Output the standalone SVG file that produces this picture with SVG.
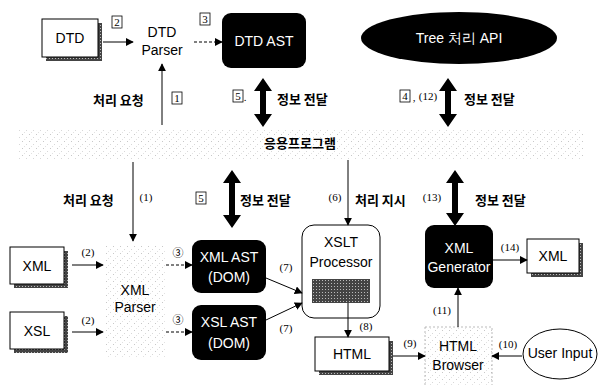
<svg xmlns="http://www.w3.org/2000/svg" width="598" height="385" viewBox="0 0 598 385">
<defs>
<marker id="ah" viewBox="0 0 10 10" refX="9" refY="5" markerWidth="8" markerHeight="8" markerUnits="userSpaceOnUse" orient="auto">
<path d="M0,0 L10,5 L0,10 z" fill="#000"/>
</marker>
<pattern id="speck" width="7" height="7" patternUnits="userSpaceOnUse">
<rect width="7" height="7" fill="#fff"/>
<rect x="1" y="1" width="1" height="1" fill="#c8c8c8"/>
<rect x="5" y="4" width="1" height="1" fill="#d8d8d8"/>
<rect x="3" y="6" width="1" height="1" fill="#e2e2e2"/>
</pattern>
<pattern id="dark" width="3" height="3" patternUnits="userSpaceOnUse">
<rect width="3" height="3" fill="#444"/>
<rect x="1" y="1" width="1" height="1" fill="#bbb"/>
</pattern>
<style>
.lat{font-family:"Liberation Sans","Noto Sans",sans-serif;font-size:14px;text-anchor:middle;fill:#000}
.w{fill:#fff}
.kr{font-family:"Noto Sans CJK KR","Noto Sans",sans-serif;font-size:13px;font-weight:bold;fill:#000}
.num{font-family:"Liberation Serif","Noto Sans CJK KR",serif;font-size:11px;text-anchor:middle;fill:#000}
.box{fill:none;stroke:#000;stroke-width:0.8}
.doc{fill:#fff;stroke:#000;stroke-width:1}
.shadow{fill:url(#dark)}
.blk{fill:#000}
.ln{stroke:#000;stroke-width:1;fill:none}
.dash{stroke:#000;stroke-width:1;fill:none;stroke-dasharray:3,2}
</style>
</defs>
<rect width="598" height="385" fill="#fff"/>

<g id="app">
<rect x="18" y="128" width="565" height="32" fill="url(#speck)"/>
<text x="300" y="148" class="kr" text-anchor="middle">응용프로그램</text>
</g>

<g id="dtd-doc">
<rect x="46" y="23" width="56" height="38" class="shadow"/>
<rect x="42" y="19" width="56" height="38" class="doc"/>
<text x="70" y="43" class="lat">DTD</text>
</g>
<g id="dtd-parser">
<text x="162" y="37" class="lat">DTD</text>
<text x="162" y="55" class="lat">Parser</text>
</g>
<g id="dtd-ast">
<rect x="222" y="13" width="84" height="55" rx="9" class="blk"/>
<text x="264" y="46" class="lat w">DTD AST</text>
</g>
<g id="tree-api">
<ellipse cx="459" cy="38" rx="98" ry="26" fill="#000"/>
<text x="459" y="43" class="lat w">Tree 처리 API</text>
</g>

<g id="xml-doc">
<rect x="14" y="251" width="54" height="37" class="shadow"/>
<rect x="10" y="247" width="54" height="37" class="doc"/>
<text x="37" y="271" class="lat">XML</text>
</g>
<g id="xsl-doc">
<rect x="14" y="316" width="54" height="37" class="shadow"/>
<rect x="10" y="312" width="54" height="37" class="doc"/>
<text x="37" y="336" class="lat">XSL</text>
</g>
<g id="xml-parser">
<rect x="105" y="246" width="60" height="112" fill="url(#speck)"/>
<text x="135" y="295" class="lat">XML</text>
<text x="135" y="312" class="lat">Parser</text>
</g>
<g id="xml-ast">
<rect x="192" y="240" width="74" height="53" rx="9" class="blk"/>
<text x="229" y="262" class="lat w">XML AST</text>
<text x="229" y="282" class="lat w">(DOM)</text>
</g>
<g id="xsl-ast">
<rect x="192" y="305" width="74" height="55" rx="9" class="blk"/>
<text x="229" y="327" class="lat w">XSL AST</text>
<text x="229" y="348" class="lat w">(DOM)</text>
</g>
<g id="xslt">
<rect x="302" y="225" width="78" height="93" rx="12" fill="#fff" stroke="#000" stroke-width="1"/>
<text x="341" y="247" class="lat">XSLT</text>
<text x="341" y="267" class="lat">Processor</text>
<rect x="312" y="279" width="58" height="24" fill="url(#dark)"/>
</g>
<g id="html-doc">
<rect x="319" y="341" width="74" height="34" class="shadow"/>
<rect x="315" y="337" width="74" height="34" class="doc"/>
<text x="352" y="359" class="lat">HTML</text>
</g>
<g id="browser">
<rect x="425" y="327" width="67" height="60" fill="url(#speck)" stroke="#aaa" stroke-width="0.8" stroke-dasharray="2,2"/>
<text x="458" y="351" class="lat">HTML</text>
<text x="458" y="370" class="lat">Browser</text>
</g>
<g id="user-input">
<ellipse cx="560" cy="354" rx="37" ry="25" fill="#fff" stroke="#000" stroke-width="1"/>
<text x="560" y="358" class="lat" font-size="12">User Input</text>
</g>
<g id="xml-gen">
<rect x="425" y="225" width="68" height="63" rx="9" class="blk"/>
<text x="459" y="253" class="lat w">XML</text>
<text x="459" y="272" class="lat w">Generator</text>
</g>
<g id="xml-out">
<rect x="531" y="243" width="52" height="34" class="shadow"/>
<rect x="527" y="239" width="52" height="34" class="doc"/>
<text x="553" y="261" class="lat">XML</text>
</g>

<g id="connectors">
<line x1="103" y1="42" x2="133" y2="42" class="ln" marker-end="url(#ah)"/>
<line x1="194" y1="42" x2="222" y2="42" class="dash" marker-end="url(#ah)"/>
<line x1="162" y1="125" x2="162" y2="64" class="ln" marker-end="url(#ah)"/>
<polygon points="263,78 272,91 266,91 266,114 272,114 263,127 254,114 260,114 260,91 254,91" fill="#000"/>
<polygon points="448,78 457,91 451,91 451,114 457,114 448,127 439,114 445,114 445,91 439,91" fill="#000"/>
<line x1="133" y1="162" x2="133" y2="241" class="ln" marker-end="url(#ah)"/>
<polygon points="232,170 241,183 235,183 235,215 241,215 232,228 223,215 229,215 229,183 223,183" fill="#000"/>
<line x1="348" y1="160" x2="348" y2="225" class="ln" marker-end="url(#ah)"/>
<polygon points="455,170 464,183 458,183 458,213 464,213 455,226 446,213 452,213 452,183 446,183" fill="#000"/>
<line x1="72" y1="265" x2="103" y2="265" class="ln" marker-end="url(#ah)"/>
<line x1="72" y1="332" x2="103" y2="332" class="ln" marker-end="url(#ah)"/>
<line x1="166" y1="265" x2="192" y2="265" class="dash" marker-end="url(#ah)"/>
<line x1="166" y1="332" x2="192" y2="332" class="dash" marker-end="url(#ah)"/>
<line x1="266" y1="278" x2="302" y2="293" class="ln" marker-end="url(#ah)"/>
<line x1="266" y1="320" x2="302" y2="303" class="ln" marker-end="url(#ah)"/>
<line x1="348" y1="303" x2="348" y2="337" class="ln" marker-end="url(#ah)"/>
<line x1="393" y1="356" x2="425" y2="356" class="ln" marker-end="url(#ah)"/>
<line x1="522" y1="356" x2="492" y2="356" class="ln" marker-end="url(#ah)"/>
<line x1="458" y1="327" x2="458" y2="288" class="ln" marker-end="url(#ah)"/>
<line x1="493" y1="260" x2="527" y2="260" class="ln" marker-end="url(#ah)"/>
</g>

<g id="labels">
<rect x="112" y="16" width="10" height="12" class="box"/><text x="117" y="26" class="num">2</text>
<rect x="200" y="13" width="10" height="12" class="box"/><text x="205" y="23" class="num">3</text>
<text x="93" y="105" class="kr">처리 요청</text>
<rect x="172" y="92" width="10" height="12" class="box"/><text x="177" y="102" class="num">1</text>
<rect x="233" y="90" width="10" height="12" class="box"/><text x="238" y="100" class="num">5</text><text x="245" y="101" class="num">.</text>
<text x="277" y="104" class="kr">정보 전달</text>
<rect x="400" y="90" width="10" height="12" class="box"/><text x="405" y="100" class="num">4</text>
<text x="414" y="101" class="num">,</text>
<text x="428" y="100" class="num">(12)</text>
<text x="464" y="104" class="kr">정보 전달</text>
<text x="63" y="205" class="kr">처리 요청</text>
<text x="146" y="201" class="num">(1)</text>
<rect x="196" y="192" width="10" height="12" class="box"/><text x="201" y="202" class="num">5</text>
<text x="240" y="205" class="kr">정보 전달</text>
<text x="335" y="201" class="num">(6)</text>
<text x="355" y="205" class="kr">처리 지시</text>
<text x="432" y="201" class="num">(13)</text>
<text x="475" y="205" class="kr">정보 전달</text>
<text x="88" y="256" class="num">(2)</text>
<text x="88" y="324" class="num">(2)</text>
<text x="178" y="257" class="num" font-size="12">③</text>
<text x="178" y="324" class="num" font-size="12">③</text>
<text x="286" y="271" class="num">(7)</text>
<text x="286" y="332" class="num">(7)</text>
<text x="366" y="330" class="num">(8)</text>
<text x="410" y="347" class="num">(9)</text>
<text x="508" y="348" class="num">(10)</text>
<text x="442" y="314" class="num">(11)</text>
<text x="510" y="251" class="num">(14)</text>
</g>
</svg>
